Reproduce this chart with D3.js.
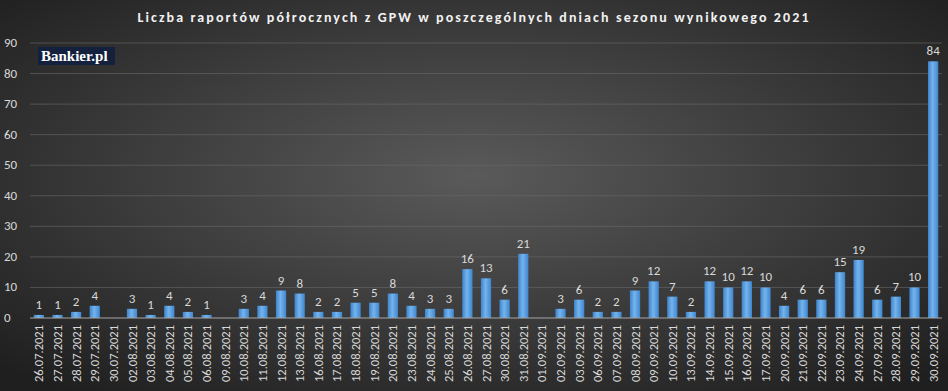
<html>
<head>
<meta charset="UTF-8">
<title>Raporty półroczne GPW</title>
<script src="https://d3js.org/d3.v7.min.js"></script>
<style>
body { margin: 0; background: #262626; }
text { font-family: Calibri, Carlito, "Liberation Sans", "Open Sans", sans-serif; }
</style>
</head>
<body>
<div id="chart"></div>
<script>
var dates = ["26.07.2021","27.07.2021","28.07.2021","29.07.2021","30.07.2021","02.08.2021","03.08.2021","04.08.2021","05.08.2021","06.08.2021","09.08.2021","10.08.2021","11.08.2021","12.08.2021","13.08.2021","16.08.2021","17.08.2021","18.08.2021","19.08.2021","20.08.2021","23.08.2021","24.08.2021","25.08.2021","26.08.2021","27.08.2021","30.08.2021","31.08.2021","01.09.2021","02.09.2021","03.09.2021","06.09.2021","07.09.2021","08.09.2021","09.09.2021","10.09.2021","13.09.2021","14.09.2021","15.09.2021","16.09.2021","17.09.2021","20.09.2021","21.09.2021","22.09.2021","23.09.2021","24.09.2021","27.09.2021","28.09.2021","29.09.2021","30.09.2021"];
var counts = [1,1,2,4,0,3,1,4,2,1,0,3,4,9,8,2,2,5,5,8,4,3,3,16,13,6,21,0,3,6,2,2,9,12,7,2,12,10,12,10,4,6,6,15,19,6,7,10,84];
var yTicks = [0,10,20,30,40,50,60,70,80,90];
var title = "Liczba raportów półrocznych z GPW w poszczególnych dniach sezonu wynikowego 2021";

var width = 948, height = 391;
var margin = {top: 43, right: 6, bottom: 73, left: 30};

var rows = dates.map(function(d, i){ return {date: d, value: counts[i]}; });

var svg = d3.select("#chart").append("svg")
    .attr("width", width)
    .attr("height", height);

var defs = svg.append("defs");
var bg = defs.append("radialGradient").attr("id", "bg")
    .attr("cx", "50%").attr("cy", "45%").attr("r", "70%");
bg.append("stop").attr("offset", "0%").attr("stop-color", "#5a5a5a");
bg.append("stop").attr("offset", "100%").attr("stop-color", "#1f1f1f");

var barGrad = defs.append("linearGradient").attr("id", "bar")
    .attr("x1", "0%").attr("x2", "100%").attr("y1", "0%").attr("y2", "0%");
barGrad.append("stop").attr("offset", "0%").attr("stop-color", "#3e83cc");
barGrad.append("stop").attr("offset", "45%").attr("stop-color", "#74b4ec");
barGrad.append("stop").attr("offset", "100%").attr("stop-color", "#3f86d0");

svg.append("rect").attr("width", width).attr("height", height).attr("fill", "url(#bg)");

svg.append("text")
    .attr("x", 474).attr("y", 22)
    .attr("text-anchor", "middle")
    .attr("fill", "#f2f2f2")
    .style("font-size", "14px")
    .style("font-weight", "bold")
    .style("letter-spacing", "2.1px")
    .text(title);

var x = d3.scaleBand()
    .domain(dates)
    .range([margin.left, width - margin.right])
    .paddingInner(0.45)
    .paddingOuter(0.2);

var y = d3.scaleLinear()
    .domain([0, 90])
    .range([height - margin.bottom, margin.top]);

// gridlines
svg.append("g")
    .selectAll("line")
    .data(yTicks.slice(1))
    .enter().append("line")
    .attr("x1", margin.left).attr("x2", width - margin.right)
    .attr("y1", function(d){ return y(d); })
    .attr("y2", function(d){ return y(d); })
    .attr("stroke", "#6a6a6a")
    .attr("stroke-width", 1)
    .attr("opacity", 0.6);

// y labels
svg.append("g")
    .selectAll("text")
    .data(yTicks)
    .enter().append("text")
    .attr("x", 4)
    .attr("y", function(d){ return y(d) + 4; })
    .attr("fill", "#d9d9d9")
    .style("font-size", "13px")
    .text(function(d){ return d; });

// bars
svg.append("g")
    .selectAll("rect")
    .data(rows)
    .enter().append("rect")
    .attr("x", function(d){ return x(d.date); })
    .attr("width", x.bandwidth())
    .attr("y", function(d){ return y(d.value); })
    .attr("height", function(d){ return y(0) - y(d.value); })
    .attr("fill", "url(#bar)");

// zero axis line
svg.append("line")
    .attr("x1", margin.left).attr("x2", width - margin.right)
    .attr("y1", y(0)).attr("y2", y(0))
    .attr("stroke", "#a6a6a6")
    .attr("stroke-width", 1.2);

// value labels
svg.append("g")
    .selectAll("text")
    .data(rows.filter(function(d){ return d.value > 0; }))
    .enter().append("text")
    .attr("x", function(d){ return x(d.date) + x.bandwidth() / 2; })
    .attr("y", function(d){ return y(d.value) - 6; })
    .attr("text-anchor", "middle")
    .attr("fill", "#d9d9d9")
    .style("font-size", "13px")
    .text(function(d){ return d.value; });

// x labels
svg.append("g")
    .selectAll("text")
    .data(dates)
    .enter().append("text")
    .attr("transform", function(d){
        return "translate(" + (x(d) + x.bandwidth() / 2 + 4.5) + "," + (y(0) + 7) + ") rotate(-90)";
    })
    .attr("text-anchor", "end")
    .attr("fill", "#d9d9d9")
    .style("font-size", "12.5px")
    .text(function(d){ return d; });

// logo
var logo = svg.append("g").attr("transform", "translate(38,47)");
logo.append("rect").attr("width", 77).attr("height", 18).attr("fill", "#13203e");
logo.append("text")
    .attr("x", 3).attr("y", 14)
    .attr("fill", "#ffffff")
    .style("font-family", "'Liberation Serif', 'DejaVu Serif', serif")
    .style("font-size", "15px")
    .style("font-weight", "bold")
    .text("Bankier.pl");
</script>
</body>
</html>
